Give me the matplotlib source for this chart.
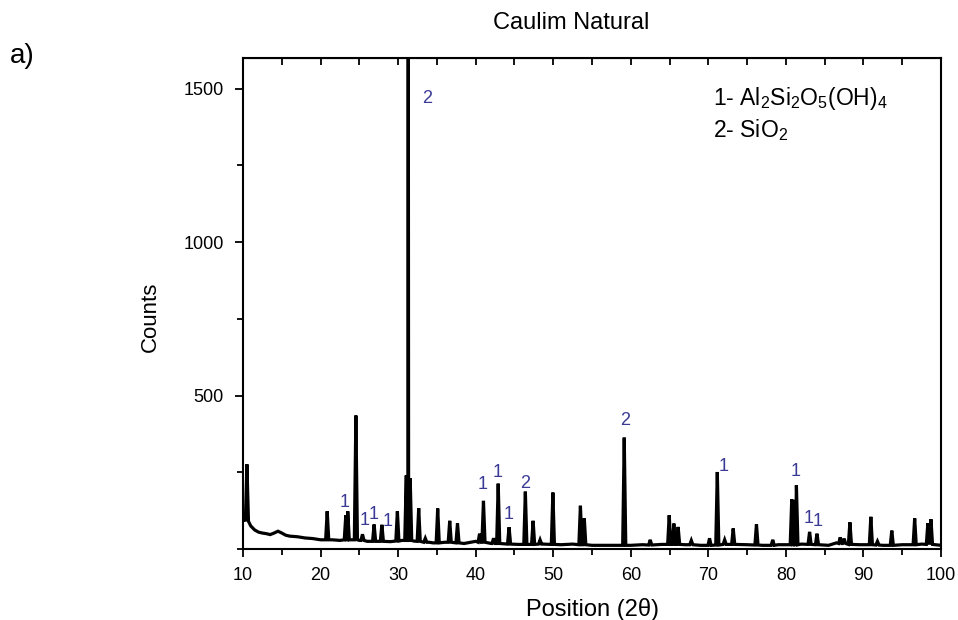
import numpy as np
import matplotlib
matplotlib.use("Agg")
import matplotlib.pyplot as plt
from matplotlib.ticker import MultipleLocator

plt.rcParams['font.family'] = ['Liberation Sans', 'DejaVu Sans']
plt.rcParams['mathtext.fontset'] = 'custom'
plt.rcParams['mathtext.rm'] = 'Liberation Sans'
plt.rcParams['mathtext.it'] = 'Liberation Sans'

# background level of the scan (2theta, counts)
bg_pos = [10.0, 10.2, 11.0, 11.5, 12.0, 12.5, 13.0, 13.5, 14.0, 14.5, 15.0, 15.5,
          16.0, 17.0, 18.0, 19.0, 20.0, 21.5, 22.5, 23.8, 25.0, 26.0, 27.5, 29.0,
          30.5, 32.0, 34.0, 34.5, 36.0, 38.5, 40.0, 42.0, 45.5, 48.7, 51.0, 52.5,
          55.0, 57.0, 60.0, 61.5, 64.0, 67.0, 69.0, 72.6, 75.0, 77.0, 79.0, 82.0,
          85.5, 86.5, 89.5, 92.5, 95.0, 97.5, 100.0]
bg_counts = [105, 100, 75, 62, 55, 52, 50, 47, 52, 58, 52, 45,
             42, 40, 36, 34, 30, 30, 28, 30, 28, 25, 25, 24,
             28, 26, 22, 20, 22, 18, 25, 18, 15, 16, 14, 16,
             12, 12, 12, 14, 15, 14, 12, 15, 14, 12, 14, 16,
             12, 20, 14, 12, 14, 16, 12]

# reflections: position, peak counts, base level under the peak
peak_pos = [10.5, 20.85, 23.25, 23.5, 24.55, 25.4, 26.9, 27.9, 29.9, 31.05,
            31.3, 31.55, 32.65, 33.5, 35.1, 36.65, 37.65, 40.5, 41.0, 42.3,
            42.9, 44.3, 46.4, 47.4, 48.3, 49.95, 53.5, 54.0, 59.15, 62.5,
            64.95, 65.55, 66.1, 67.8, 70.15, 71.15, 72.1, 73.2, 76.2, 78.3,
            80.75, 81.05, 81.35, 83.05, 84.0, 87.0, 87.5, 88.25, 90.95, 91.8,
            93.65, 96.6, 98.3, 98.7]
peak_counts = [276, 123, 110, 123, 435, 48, 80, 79, 123, 240,
               2200, 230, 133, 35, 132, 92, 84, 50, 157, 35,
               213, 71, 187, 92, 30, 184, 141, 100, 363, 30,
               110, 83, 72, 28, 35, 251, 30, 67, 81, 30,
               162, 160, 208, 56, 50, 38, 34, 87, 105, 25,
               60, 100, 84, 97]
peak_base = [90, 30, 30, 30, 30, 28, 25, 25, 26, 28,
             28, 28, 25, 22, 20, 22, 20, 22, 22, 18,
             18, 16, 15, 15, 16, 15, 14, 14, 12, 13,
             15, 15, 15, 14, 12, 13, 15, 15, 13, 12,
             14, 14, 14, 15, 14, 18, 18, 15, 14, 13,
             12, 14, 15, 15]

# phase markers: text, 2theta, counts
mark_text = ['1', '1', '1', '1', '1', '1', '1', '2', '2', '2', '1', '1', '1', '1']
mark_pos = [23.15, 25.7, 26.8, 28.6, 40.85, 42.8, 44.3, 46.4, 33.7, 59.25,
            72.0, 81.25, 82.95, 84.15]
mark_counts = [150, 92, 112, 90, 211, 249, 114, 213, 1467, 420,
               270, 252, 100, 89]

hw = 0.2
xs, ys = [], []
for p, c in zip(bg_pos, bg_counts):
    if min(abs(p - q) for q in peak_pos) > hw:
        xs.append(p)
        ys.append(c)
for p, c, b in zip(peak_pos, peak_counts, peak_base):
    xs += [p - hw, p, p + hw]
    ys += [b, c, b]
order = np.argsort(xs, kind='stable')
xs = np.array(xs)[order]
ys = np.array(ys)[order]

fig = plt.figure(figsize=(9.58, 6.2), dpi=100)
ax = fig.add_axes([0.2537, 0.1145, 0.7286, 0.792])
ax.plot(xs, ys, color='black', lw=2.3, solid_joinstyle='miter')

ax.set_xlim(10, 100)
ax.set_ylim(0, 1600)
ax.xaxis.set_major_locator(MultipleLocator(10))
ax.xaxis.set_minor_locator(MultipleLocator(5))
ax.yaxis.set_minor_locator(MultipleLocator(250))
ax.set_yticks([500, 1000, 1500])
ax.tick_params(axis='both', which='both', direction='out', labelsize=13,
               width=1.3, colors='black')
ax.tick_params(which='major', length=6)
ax.tick_params(which='minor', length=4)
ax.tick_params(axis='y', which='major', pad=8)
ax.tick_params(axis='x', which='major', pad=7)
for spine in ax.spines.values():
    spine.set_linewidth(1.5)

# top axis ticks point inward
sec = ax.secondary_xaxis('top')
sec.xaxis.set_major_locator(MultipleLocator(5))
sec.tick_params(direction='in', length=5, width=1.3, labeltop=False)

ax.set_xlabel('Position (2θ)', fontsize=17, labelpad=10)
fig.text(150 / 958, 1 - 317 / 620, 'Counts', fontsize=16, rotation=90,
         ha='center', va='center')
fig.text(571 / 958, 1 - 23 / 620, 'Caulim Natural', fontsize=17,
         ha='center', va='center')
fig.text(10 / 958, 1 - 56 / 620, 'a)', fontsize=20, ha='left', va='center')

for t, p, c in zip(mark_text, mark_pos, mark_counts):
    ax.text(p, c, t, color='#3a3a96', fontsize=13, ha='center', va='center')

fig.text(713 / 958, 1 - 98 / 620, r'1- Al$_2$Si$_2$O$_5$(OH)$_4$', fontsize=16.5,
         ha='left', va='center')
fig.text(713 / 958, 1 - 130 / 620, r'2- SiO$_2$', fontsize=16.5,
         ha='left', va='center')

fig.savefig('out.png', dpi=100)
